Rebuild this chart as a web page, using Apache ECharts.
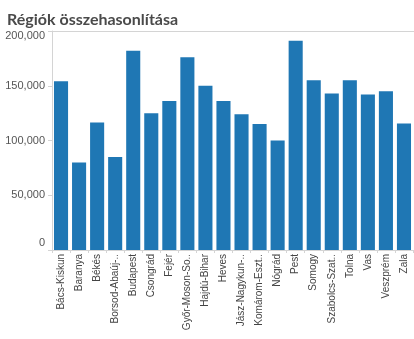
<!DOCTYPE html>
<html>
<head>
<meta charset="utf-8">
<script src="https://cdn.jsdelivr.net/npm/echarts@6/dist/echarts.min.js"></script>
<style>
  html, body { margin: 0; padding: 0; background: #fff; }
  #chart { width: 414px; height: 339px; }
</style>
</head>
<body>
<div id="chart"></div>
<script>
// Megyék (rövidített feliratokkal, ahogy a tengelyen megjelennek)
const regions = [
  'Bács-Kiskun', 'Baranya', 'Békés', 'Borsod-Abaúj-..', 'Budapest',
  'Csongrád', 'Fejér', 'Győr-Moson-So..', 'Hajdú-Bihar', 'Heves',
  'Jász-Nagykun-..', 'Komárom-Eszt..', 'Nógrád', 'Pest', 'Somogy',
  'Szabolcs-Szat..', 'Tolna', 'Vas', 'Veszprém', 'Zala'
];
const values = [
  154000, 80000, 116500, 85000, 182000,
  125000, 136000, 176000, 150000, 136000,
  124000, 115000, 100000, 191000, 155000,
  143000, 155000, 142000, 145000, 115500
];
const yTicks = [0, 50000, 100000, 150000, 200000];

const chart = echarts.init(document.getElementById('chart'), null, { renderer: 'canvas' });

chart.setOption({
  animation: false,
  title: {
    text: 'Régiók összehasonlítása',
    left: 2,
    top: 7,
    textStyle: {
      fontFamily: 'Lato',
      fontWeight: 'bold',
      fontSize: 16,
      color: '#4a4a4a'
    }
  },
  grid: { left: 52, right: 1, top: 31, bottom: 89, containLabel: false },
  xAxis: {
    type: 'category',
    data: regions,
    axisLine: { show: true, lineStyle: { color: '#d4d4d4' } },
    axisTick: { show: true, length: 3, lineStyle: { color: '#d4d4d4' } },
    axisLabel: {
      rotate: 90,
      interval: 0,
      margin: 4,
      fontFamily: 'Liberation Sans',
      fontSize: 10,
      color: '#444'
    }
  },
  yAxis: {
    type: 'value',
    min: yTicks[0],
    max: yTicks[yTicks.length - 1],
    interval: yTicks[1] - yTicks[0],
    splitLine: { show: false },
    axisLine: { show: true, lineStyle: { color: '#d4d4d4' } },
    axisTick: { show: true, length: 4, lineStyle: { color: '#d4d4d4' } },
    axisLabel: {
      margin: 7,
      fontFamily: 'Liberation Sans',
      fontSize: 11,
      color: '#555',
      formatter: function (v) {
        const s = v.toLocaleString('en-US');
        if (v === yTicks[yTicks.length - 1]) return '{top|' + s + '}';
        if (v === yTicks[0]) return '{bot|' + s + '}';
        return s;
      },
      rich: {
        top: { fontFamily: 'Liberation Sans', fontSize: 11, color: '#555', padding: [10, 0, 0, 0] },
        bot: { fontFamily: 'Liberation Sans', fontSize: 11, color: '#555', padding: [0, 0, 14, 0] }
      }
    }
  },
  series: [{
    type: 'bar',
    data: values,
    barCategoryGap: '22%',
    itemStyle: { color: '#1f77b4' }
  }]
});

// Felső keretvonal a rajzterület fölött
chart.setOption({
  graphic: [{
    type: 'line',
    shape: { x1: 52, y1: 31.5, x2: 414, y2: 31.5 },
    style: { stroke: '#d4d4d4', lineWidth: 1 },
    silent: true
  }]
});
</script>
</body>
</html>
